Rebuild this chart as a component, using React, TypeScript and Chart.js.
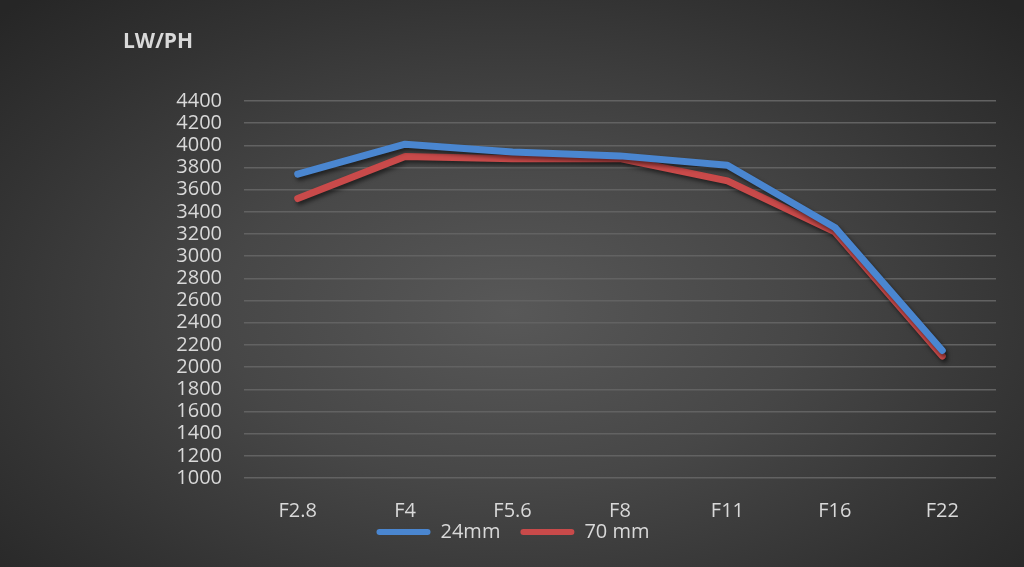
import React, { useEffect, useRef } from "react";
import { Chart, registerables } from "chart.js";

Chart.register(...registerables);

const categories = ["F2.8", "F4", "F5.6", "F8", "F11", "F16", "F22"];
const series24mm = [3740, 4010, 3940, 3905, 3820, 3260, 2150];
const series70mm = [3520, 3900, 3880, 3880, 3680, 3220, 2100];
const seriesNames = ["24mm", "70 mm"];
const yMin = 1000;
const yMax = 4400;
const yStep = 200;
const titleText = "LW/PH";

const FONT = "'Open Sans', 'Noto Sans', sans-serif";
const TEXT = "#d9d9d9";

export default function App() {
  const ref = useRef<HTMLCanvasElement | null>(null);

  useEffect(() => {
    if (!ref.current) return;
    const shadowPlugin = {
      id: "lineShadow",
      beforeDatasetDraw(chart: any) {
        const ctx = chart.ctx;
        ctx.save();
        ctx.shadowColor = "rgba(0,0,0,0.55)";
        ctx.shadowBlur = 4;
        ctx.shadowOffsetX = 2;
        ctx.shadowOffsetY = 3;
      },
      afterDatasetDraw(chart: any) {
        chart.ctx.restore();
      },
    };
    const legendPlacePlugin = {
      id: "legendPlace",
      beforeLayout(chart: any) {
        const lg = chart.legend;
        if (lg && !lg._patchedFit) {
          const orig = lg.fit.bind(lg);
          lg.fit = function () {
            orig();
            this.height = 45;
          };
          lg._patchedFit = true;
        }
      },
      afterLayout(chart: any) {
        const lg = chart.legend;
        if (!lg) return;
        lg.top -= 20;
        lg.bottom -= 20;
        lg.left += 15;
        lg.right += 15;
      },
    };
    const titlePlugin = {
      id: "cornerTitle",
      afterDraw(chart: any) {
        const ctx = chart.ctx;
        ctx.save();
        ctx.fillStyle = TEXT;
        ctx.font = `bold 21px ${FONT}`;
        ctx.textAlign = "left";
        ctx.textBaseline = "middle";
        ctx.fillText(titleText, 123, 42);
        ctx.restore();
      },
    };
    const chart = new Chart(ref.current, {
      type: "line",
      data: {
        labels: categories,
        datasets: [
          {
            label: seriesNames[0],
            data: series24mm,
            borderColor: "#4a86d0",
            backgroundColor: "#4a86d0",
            borderWidth: 7,
            pointRadius: 0,
            borderCapStyle: "round",
            borderJoinStyle: "round",
            tension: 0,
          },
          {
            label: seriesNames[1],
            data: series70mm,
            borderColor: "#c94a4a",
            backgroundColor: "#c94a4a",
            borderWidth: 7,
            pointRadius: 0,
            borderCapStyle: "round",
            borderJoinStyle: "round",
            tension: 0,
          },
        ],
      },
      options: {
        animation: false,
        responsive: false,
        layout: { padding: { top: 101, left: 0, right: 28, bottom: 0 } },
        plugins: {
          title: { display: false },
          tooltip: { enabled: false },
          legend: {
            position: "bottom",
            labels: {
              color: TEXT,
              font: { family: FONT, size: 20 },
              boxWidth: 54,
              boxHeight: 6,
              useBorderRadius: true,
              borderRadius: 3,
              padding: 20,
              generateLabels: (c: any) =>
                Chart.defaults.plugins.legend.labels
                  .generateLabels(c)
                  .map((it: any) => ({ ...it, lineWidth: 0 })),
            },
          },
        },
        scales: {
          x: {
            offset: true,
            grid: { display: false, drawOnChartArea: false },
            border: { display: false },
            ticks: {
              color: TEXT,
              font: { family: FONT, size: 20 },
              padding: 13,
              maxRotation: 0,
              autoSkip: false,
            },
            afterFit: (s: any) => {
              s.height = 44;
            },
          },
          y: {
            min: yMin,
            max: yMax,
            grid: { color: "#626262", lineWidth: 1.5, drawTicks: false },
            border: { display: false },
            ticks: {
              stepSize: yStep,
              autoSkip: false,
              color: TEXT,
              font: { family: FONT, size: 20 },
              padding: 22,
              callback: (v: any) => String(v),
            },
            afterFit: (s: any) => {
              s.width = 244;
            },
          },
        },
      },
      plugins: [shadowPlugin, legendPlacePlugin, titlePlugin],
    } as any);
    return () => chart.destroy();
  }, []);

  return (
    <div
      style={{
        position: "fixed",
        left: 0,
        top: 0,
        width: 1024,
        height: 567,
        background:
          "radial-gradient(ellipse 70% 75% at 50% 55%, #585858 0%, #474747 40%, #333333 75%, #262626 100%)",
      }}
    >
      <canvas ref={ref} width={1024} height={567} />
    </div>
  );
}
